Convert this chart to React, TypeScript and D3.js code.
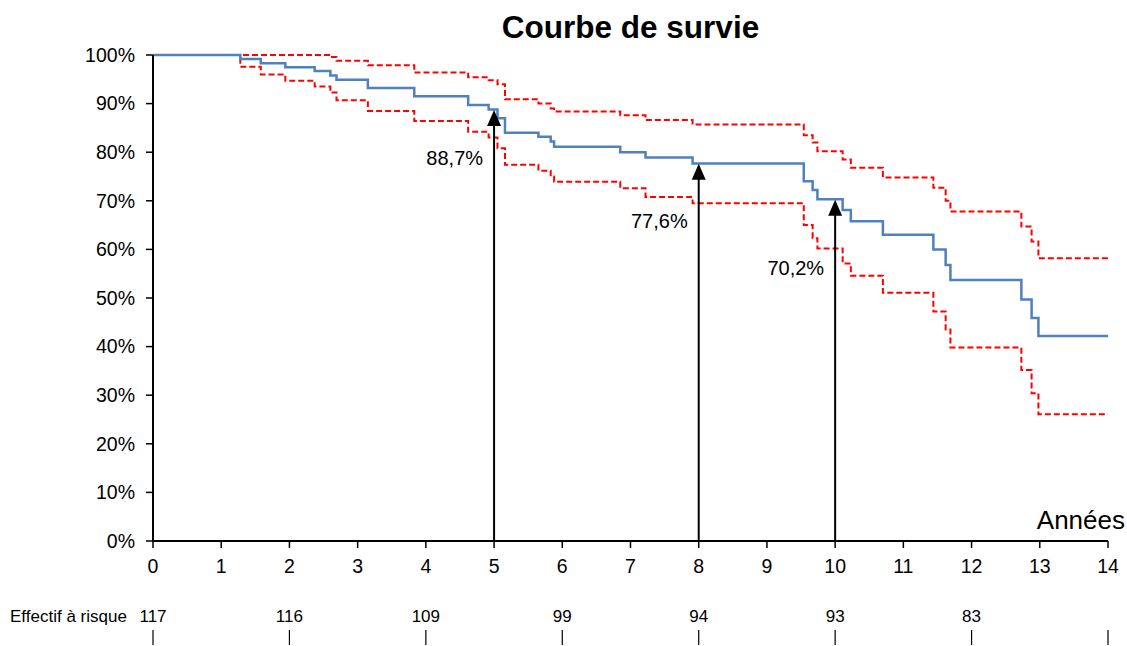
import React from 'react';
import * as d3 from 'd3';

const WIDTH = 1127;
const HEIGHT = 646;
const MARGIN = { top: 55, right: 19, bottom: 105, left: 153 };

// event times (years) shared by the estimate and its CI
const years = [
  0, 1.28, 1.58, 1.94, 2.37, 2.6, 2.69, 3.15, 3.83, 4.62, 4.92, 5.05, 5.16, 5.65, 5.83, 5.88, 6.85,
  7.22, 7.91, 9.54, 9.67, 9.74, 10.11, 10.23, 10.7, 11.44, 11.62, 11.69, 12.73, 12.88, 12.98, 14,
];
const survival = [
  100, 99.2, 98.3, 97.5, 96.7, 95.8, 94.9, 93.2, 91.5, 89.7, 88.8, 87.0, 84.0, 83.2, 82.2, 81.1, 80.0,
  78.9, 77.7, 74.0, 72.2, 70.3, 68.1, 65.8, 63.0, 60.0, 56.8, 53.7, 49.7, 45.9, 42.2, 42.2,
];
const upper = [
  100, 100, 100, 100, 100, 99.6, 98.8, 97.9, 96.4, 95.4, 94.8, 94.0, 90.9, 90.0, 89.0, 88.4, 87.6,
  86.6, 85.7, 83.5, 82.0, 80.2, 78.5, 76.8, 74.8, 72.7, 70.0, 67.8, 64.7, 61.6, 58.2, 58.2,
];
const lower = [
  100, 97.6, 96.0, 94.7, 93.5, 92.3, 90.7, 88.5, 86.4, 84.2, 83.0, 80.8, 77.4, 76.2, 75.0, 73.9, 72.6,
  70.8, 69.5, 65.0, 62.3, 60.2, 57.1, 54.6, 51.1, 47.2, 43.5, 39.8, 35.2, 30.4, 26.1, 26.1,
];

const markerYears = [5, 8, 10];
const markerValues = [88.7, 77.6, 70.2];
const markerLabels = ['88,7%', '77,6%', '70,2%'];
const labelDy = [48, 57, 68];

const riskYears = [0, 2, 4, 6, 8, 10, 12, 14];
const riskCounts = ['117', '116', '109', '99', '94', '93', '83', ''];

const FONT = 'Arial, "Liberation Sans", sans-serif';

const App = () => {
  const x = d3.scaleLinear().domain([0, 14]).range([MARGIN.left, WIDTH - MARGIN.right]);
  const y = d3.scaleLinear().domain([0, 100]).range([HEIGHT - MARGIN.bottom, MARGIN.top]);
  const y0 = y(0);

  const line = (vals: number[]) =>
    d3
      .line<number>()
      .x((_, i) => x(years[i]))
      .y((d) => y(d))
      .curve(d3.curveStepAfter)(vals) as string;

  return (
    <div style={{ position: 'absolute', left: 0, top: 0 }}>
      <svg width={WIDTH} height={HEIGHT} style={{ display: 'block', background: '#fff' }}>
        <text
          x={(x(0) + x(14)) / 2}
          y={38}
          textAnchor="middle"
          fontFamily={FONT}
          fontWeight="bold"
          fontSize={31.5}
        >
          Courbe de survie
        </text>

        {/* y axis */}
        {y.ticks(10).map((t) => (
          <g key={t}>
            <line x1={x(0) - 7} x2={x(0)} y1={y(t)} y2={y(t)} stroke="#000" strokeWidth={1.5} />
            <text
              x={x(0) - 18}
              y={y(t)}
              dy="0.35em"
              textAnchor="end"
              fontFamily={FONT}
              fontSize={19.5}
            >
              {t}%
            </text>
          </g>
        ))}

        {/* x axis */}
        {x.ticks(14).map((t) => (
          <g key={t}>
            <line x1={x(t)} x2={x(t)} y1={y0} y2={y0 + 7} stroke="#000" strokeWidth={1.5} />
            <text x={x(t)} y={y0 + 25} dy="0.35em" textAnchor="middle" fontFamily={FONT} fontSize={19.5}>
              {t}
            </text>
          </g>
        ))}

        <path d={line(upper)} fill="none" stroke="#FF0000" strokeWidth={2} strokeDasharray="6,3" />
        <path d={line(lower)} fill="none" stroke="#FF0000" strokeWidth={2} strokeDasharray="6,3" />
        <path d={line(survival)} fill="none" stroke="#4F81BD" strokeWidth={2.5} />

        <line x1={x(0)} x2={x(0)} y1={y(100)} y2={y0} stroke="#000" strokeWidth={2} />
        <line x1={x(0)} x2={x(14)} y1={y0} y2={y0} stroke="#000" strokeWidth={2} />

        {/* arrows */}
        {markerYears.map((t, i) => {
          const tip = y(markerValues[i]);
          const cx = x(t);
          return (
            <g key={t}>
              <line x1={cx} x2={cx} y1={y0} y2={tip + 14} stroke="#000" strokeWidth={2} />
              <path d={`M${cx},${tip}L${cx - 7},${tip + 16}L${cx + 7},${tip + 16}Z`} fill="#000" />
              <text
                x={cx - 11}
                y={tip + labelDy[i]}
                dy="0.35em"
                textAnchor="end"
                fontFamily={FONT}
                fontSize={20}
              >
                {markerLabels[i]}
              </text>
            </g>
          );
        })}

        <text x={WIDTH - 2} y={529} textAnchor="end" fontFamily={FONT} fontSize={26}>
          Années
        </text>

        {/* number at risk */}
        <text x={10} y={616} dy="0.35em" fontFamily={FONT} fontSize={17}>
          Effectif à risque
        </text>
        {riskYears.map((t, i) => (
          <g key={t}>
            <text x={x(t)} y={616} dy="0.35em" textAnchor="middle" fontFamily={FONT} fontSize={17}>
              {riskCounts[i]}
            </text>
            <line x1={x(t)} x2={x(t)} y1={630} y2={645} stroke="#000" strokeWidth={1.2} />
          </g>
        ))}
      </svg>
    </div>
  );
};

export default App;
